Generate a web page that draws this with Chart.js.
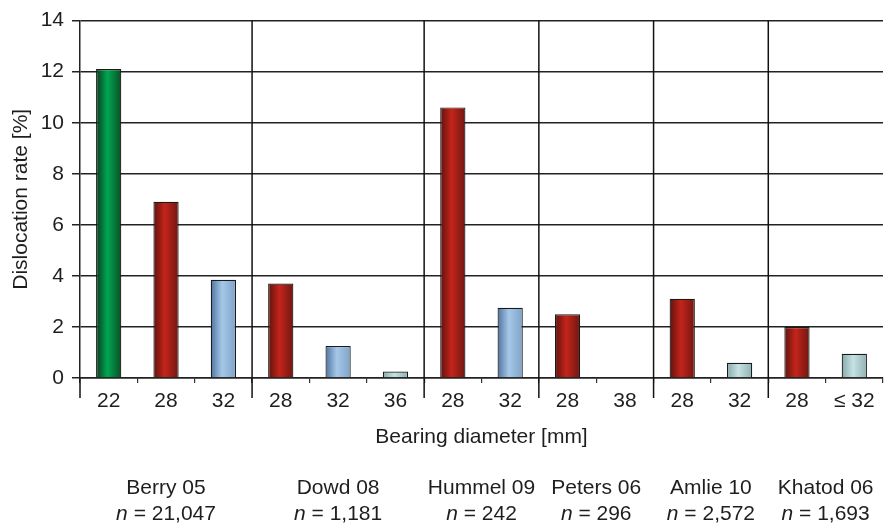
<!DOCTYPE html>
<html>
<head>
<meta charset="utf-8">
<script src="https://cdn.jsdelivr.net/npm/chart.js@4.4.1/dist/chart.umd.min.js"></script>
<style>
  html, body { margin: 0; padding: 0; background: #fff; }
  #wrap { width: 892px; height: 523px; }
</style>
</head>
<body>
<div id="wrap"><canvas id="dislocationChart"></canvas></div>
<script>
    // Bearing diameters (x categories), in order of the studies
    const diameters = ['22', '28', '32', '28', '32', '36', '28', '32', '28', '38', '28', '32', '28', '\u2264 32'];
    // Dislocation rate [%] (Peters 38 mm has no bar)
    const dislocationRate = [12.1, 6.9, 3.85, 3.7, 1.25, 0.25, 10.6, 2.75, 2.5, null, 3.1, 0.6, 2.0, 0.95];
    // Studies and how many bars each one has
    const studies = ['Berry 05', 'Dowd 08', 'Hummel 09', 'Peters 06', 'Amlie 10', 'Khatod 06'];
    const studySize = [3, 3, 2, 2, 2, 2];
    const studyN = ['21,047', '1,181', '242', '296', '2,572', '1,693'];
    const yTicks = [0, 2, 4, 6, 8, 10, 12, 14];

    // Fill style of every bar (kept apart from the data)
    const barStyle = ['green', 'red', 'blue', 'red', 'blue', 'teal', 'red', 'blue', 'red', 'red', 'red', 'teal', 'red', 'teal'];
    const palette = {
        green: ['#0c3a1d', '#00a651', '#0b4f26'],
        red:   ['#5e130e', '#c4241a', '#6e1711'],
        blue:  ['#4d74a0', '#a6c7e7', '#7da3c8'],
        teal:  ['#86a8aa', '#c6e2e2', '#8fb1b3']
    };
    const BAR_FRACTION = 0.44;
    const FONT = '"Liberation Sans", Arial, Helvetica, sans-serif';
    const FS = 21;
    const INK = '#1e1e1e';

    // Horizontal shading like the rounded bars in the original
    function barGradient(ctx) {
        const chart = ctx.chart;
        const stops = palette[barStyle[ctx.dataIndex]];
        if (!chart.chartArea || !chart.scales.x) return stops[1];
        const xs = chart.scales.x;
        const cx = xs.getPixelForValue(ctx.dataIndex);
        const w = xs.width / diameters.length * BAR_FRACTION;
        const g = chart.ctx.createLinearGradient(cx - w / 2, 0, cx + w / 2, 0);
        g.addColorStop(0, stops[0]);
        g.addColorStop(0.45, stops[1]);
        g.addColorStop(1, stops[2]);
        return g;
    }

    // Study separators, y axis extension and study labels under the axis
    const studyPlugin = {
        id: 'studyPlugin',
        afterDraw(chart) {
            const { ctx, chartArea } = chart;
            const xs = chart.scales.x;
            const step = xs.width / diameters.length;
            ctx.save();
            ctx.strokeStyle = '#111';
            ctx.lineWidth = 1.5;

            // y axis goes a bit below the x axis
            ctx.beginPath();
            ctx.moveTo(chartArea.left, chartArea.bottom);
            ctx.lineTo(chartArea.left, chartArea.bottom + 20);
            ctx.stroke();

            let start = 0;
            studies.forEach((name, i) => {
                const end = start + studySize[i];
                const left = xs.getPixelForValue(start) - step / 2;
                const right = xs.getPixelForValue(end - 1) + step / 2;
                if (i < studies.length - 1) {
                    ctx.beginPath();
                    ctx.moveTo(right, chartArea.top);
                    ctx.lineTo(right, chartArea.bottom + 20);
                    ctx.stroke();
                }
                const cx = (left + right) / 2;
                ctx.fillStyle = INK;
                ctx.textBaseline = 'middle';
                ctx.textAlign = 'center';
                ctx.font = FS + 'px ' + FONT;
                ctx.fillText(name, cx, 488);

                // "n = ..." with italic n
                const rest = ' = ' + studyN[i];
                ctx.font = 'italic ' + FS + 'px ' + FONT;
                const wn = ctx.measureText('n').width;
                ctx.font = FS + 'px ' + FONT;
                const wr = ctx.measureText(rest).width;
                const x0 = cx - (wn + wr) / 2;
                ctx.textAlign = 'left';
                ctx.font = 'italic ' + FS + 'px ' + FONT;
                ctx.fillText('n', x0, 514);
                ctx.font = FS + 'px ' + FONT;
                ctx.fillText(rest, x0 + wn, 514);
                start = end;
            });
            ctx.restore();
        }
    };

    const ctx = document.getElementById('dislocationChart').getContext('2d');
    new Chart(ctx, {
        type: 'bar',
        data: {
            labels: diameters,
            datasets: [
                {
                    label: 'Dislocation rate [%]',
                    data: dislocationRate,
                    backgroundColor: barGradient,
                    borderColor: '#1a1a1a',
                    borderWidth: 1.2,
                    barPercentage: BAR_FRACTION,
                    categoryPercentage: 1,
                },
            ],
        },
        options: {
            responsive: true,
            maintainAspectRatio: false,
            animation: false,
            layout: { padding: { top: 20, right: 9, left: 0, bottom: 0 } },
            plugins: {
                legend: { display: false },
                tooltip: { enabled: false },
            },
            scales: {
                x: {
                    afterFit(scale) { scale.height = 145; },
                    grid: {
                        drawOnChartArea: false,
                        tickLength: 5,
                        color: '#333',
                        lineWidth: 1.2,
                    },
                    border: { display: true, color: '#222', width: 1.5 },
                    ticks: {
                        autoSkip: false,
                        maxRotation: 0,
                        padding: 6,
                        color: INK,
                        font: { family: FONT, size: FS },
                    },
                    title: {
                        display: true,
                        text: 'Bearing diameter [mm]',
                        color: INK,
                        font: { family: FONT, size: FS },
                        padding: { top: 0, bottom: 73 },
                    },
                },
                y: {
                    min: 0,
                    max: 14,
                    afterFit(scale) { scale.width = 80; },
                    afterBuildTicks(scale) { scale.ticks = yTicks.map(v => ({ value: v })); },
                    grid: {
                        color: '#222',
                        lineWidth: 1.5,
                        tickLength: 8,
                    },
                    border: { display: true, color: '#222', width: 1.5 },
                    ticks: {
                        padding: 8,
                        color: INK,
                        font: { family: FONT, size: FS },
                    },
                    title: {
                        display: true,
                        text: 'Dislocation rate [%]',
                        color: INK,
                        font: { family: FONT, size: FS },
                        padding: { top: 9, bottom: 0 },
                    },
                },
            },
        },
        plugins: [studyPlugin],
    });
</script>
</body>
</html>
